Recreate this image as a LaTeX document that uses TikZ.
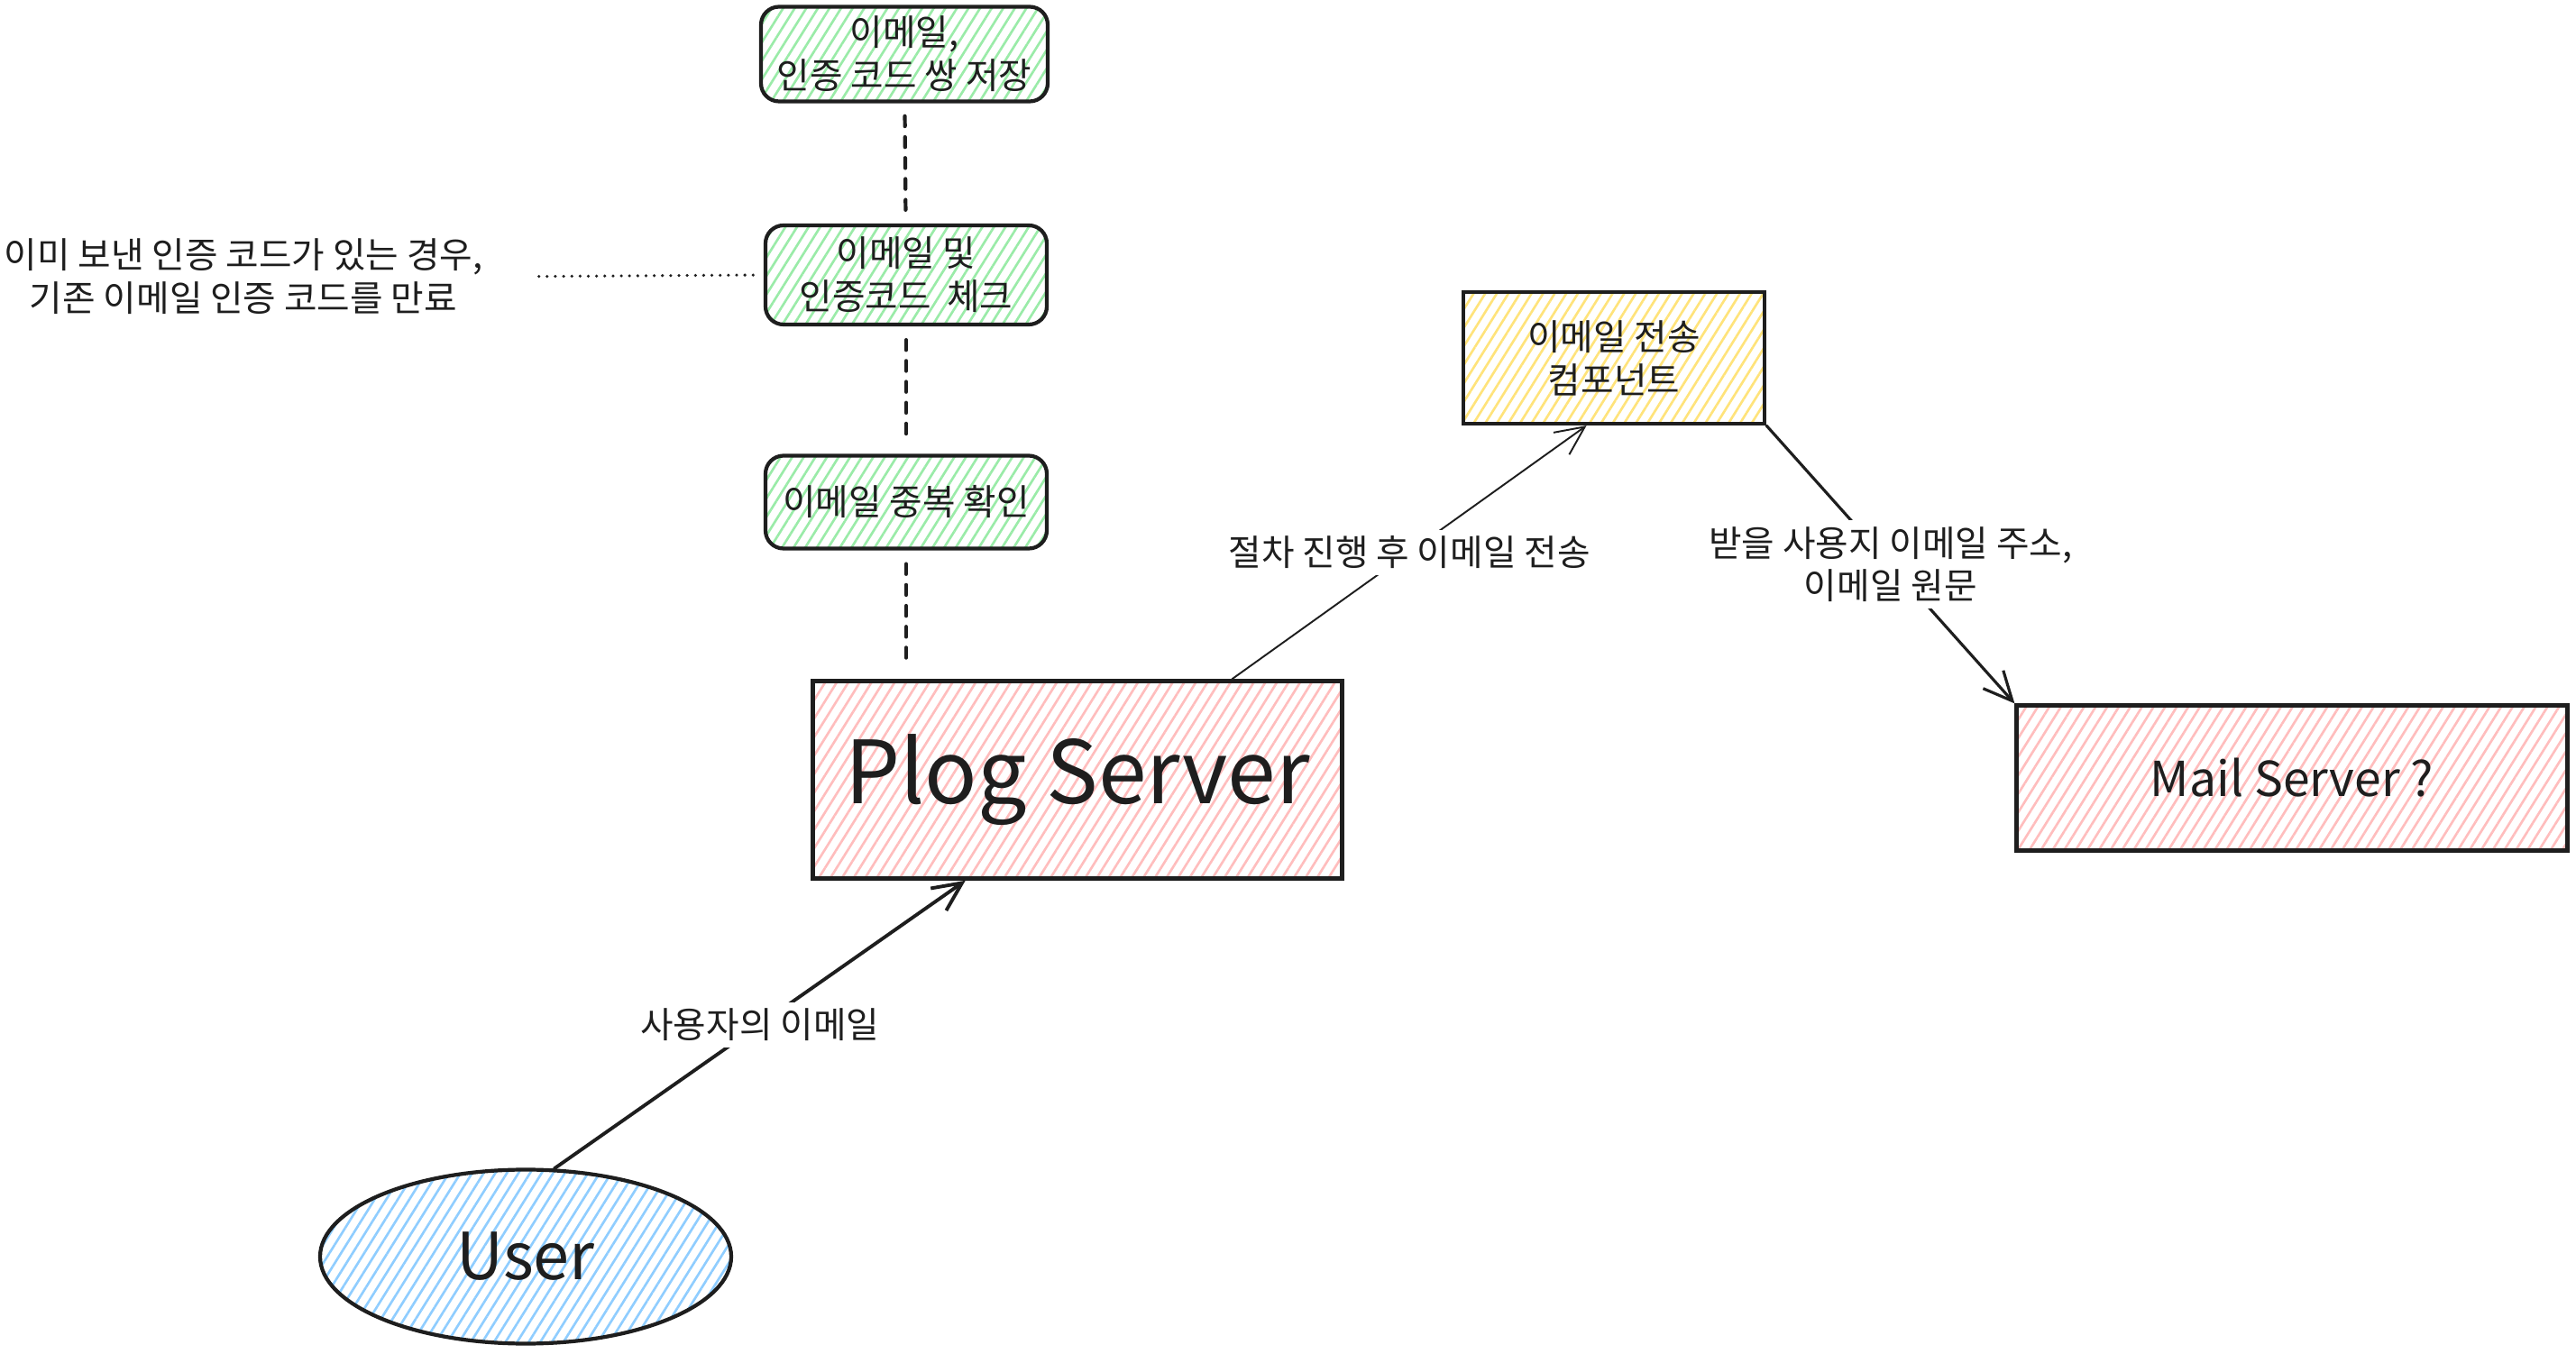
\documentclass[tikz,border=0pt]{standalone}
\usepackage{fontspec}
\setmainfont{Noto Sans CJK KR}
\usepackage{xcolor}
\usepackage{tikz}
\usetikzlibrary{arrows.meta,positioning,calc,shapes.geometric,patterns.meta}
\definecolor{ink}{HTML}{1E1E1E}
\definecolor{hgreen}{HTML}{9AEBA8}
\definecolor{hyellow}{HTML}{FFE37A}
\definecolor{hred}{HTML}{FFBDBD}
\definecolor{hblue}{HTML}{8FCDFF}
\tikzset{
  hatch/.style={pattern={Lines[angle=58,distance=3.1pt,line width=0.75pt]}},
  box/.style={draw=ink, line width=1.2pt, align=center, inner sep=0pt, text=ink,
    font=\fontsize{11.3}{13.6}\selectfont},
  checkbox/.style={box, rounded corners=2mm, hatch, pattern color=hgreen},
  lbl/.style={fill=white, inner sep=2pt, align=center, text=ink, font=\fontsize{11.3}{13.6}\selectfont},
  flow/.style={draw=ink, line cap=round, -{Straight Barb[length=3.2mm,width=3mm]}},
  dashline/.style={draw=ink, line width=1.2pt, line cap=round, dash pattern=on 3.2pt off 3.4pt,
    shorten <=1.5mm, shorten >=1.2mm},
  dotline/.style={draw=ink, line width=1pt, line cap=round, dash pattern=on 0pt off 2.6pt}
}
\begin{document}
\begin{tikzpicture}
\useasboundingbox (0,0) rectangle (28.57,-15.02);
\node[checkbox, minimum width=3.18cm, minimum height=1.05cm] (save) at (10.03,-0.60) {이메일,\\인증 코드 쌍 저장};
\node[checkbox, minimum width=3.12cm, minimum height=1.10cm] (check) at (10.05,-3.05) {이메일 및\\인증코드\ \ 체크};
\node[checkbox, minimum width=3.12cm, minimum height=1.03cm] (dup) at (10.05,-5.57) {이메일 중복 확인};
\node[box, line width=1.3pt, hatch, pattern color=hred, minimum width=5.87cm, minimum height=2.19cm,
  font=\fontsize{27.5}{32}\selectfont] (plog) at (11.95,-8.65) {Plog Server};
\node[box, hatch, pattern color=hyellow, minimum width=3.34cm, minimum height=1.46cm] (sender) at (17.90,-3.97) {이메일 전송\\컴포넌트};
\node[box, hatch, pattern color=hred, minimum width=6.11cm, minimum height=1.61cm,
  font=\fontsize{15.2}{18}\selectfont] (mail) at (25.42,-8.63) {Mail Server ?};
\node[box, ellipse, hatch, pattern color=hblue, minimum width=4.56cm, minimum height=1.93cm,
  font=\fontsize{20.5}{24}\selectfont] (user) at (5.83,-13.94) {User};
\node[align=center, text=ink, font=\fontsize{11.3}{13.6}\selectfont] (note) at (2.70,-3.07)
  {이미 보낸 인증 코드가 있는 경우,\\기존 이메일 인증 코드를 만료};

\draw[dashline] (save) -- (check);
\draw[dashline] (check) -- (dup);
\draw[dashline] (dup.south) -- (dup.south |- plog.north);
\draw[dotline, shorten <=5mm, shorten >=1mm] (note.east) -- (check.west);

\draw[flow, line width=1.1pt] (user.72) -- node[lbl] {사용자의 이메일} ($(plog.south west)!0.29!(plog.south east)$);
\draw[flow, line width=0.55pt] ($(plog.north west)!0.79!(plog.north east)$) -- node[lbl] {절차 진행 후 이메일 전송} ($(sender.south west)!0.41!(sender.south east)$);
\draw[flow, line width=0.9pt] (sender.south east) -- node[lbl] {받을 사용지 이메일 주소,\\이메일 원문} (mail.north west);
\end{tikzpicture}
\end{document}
